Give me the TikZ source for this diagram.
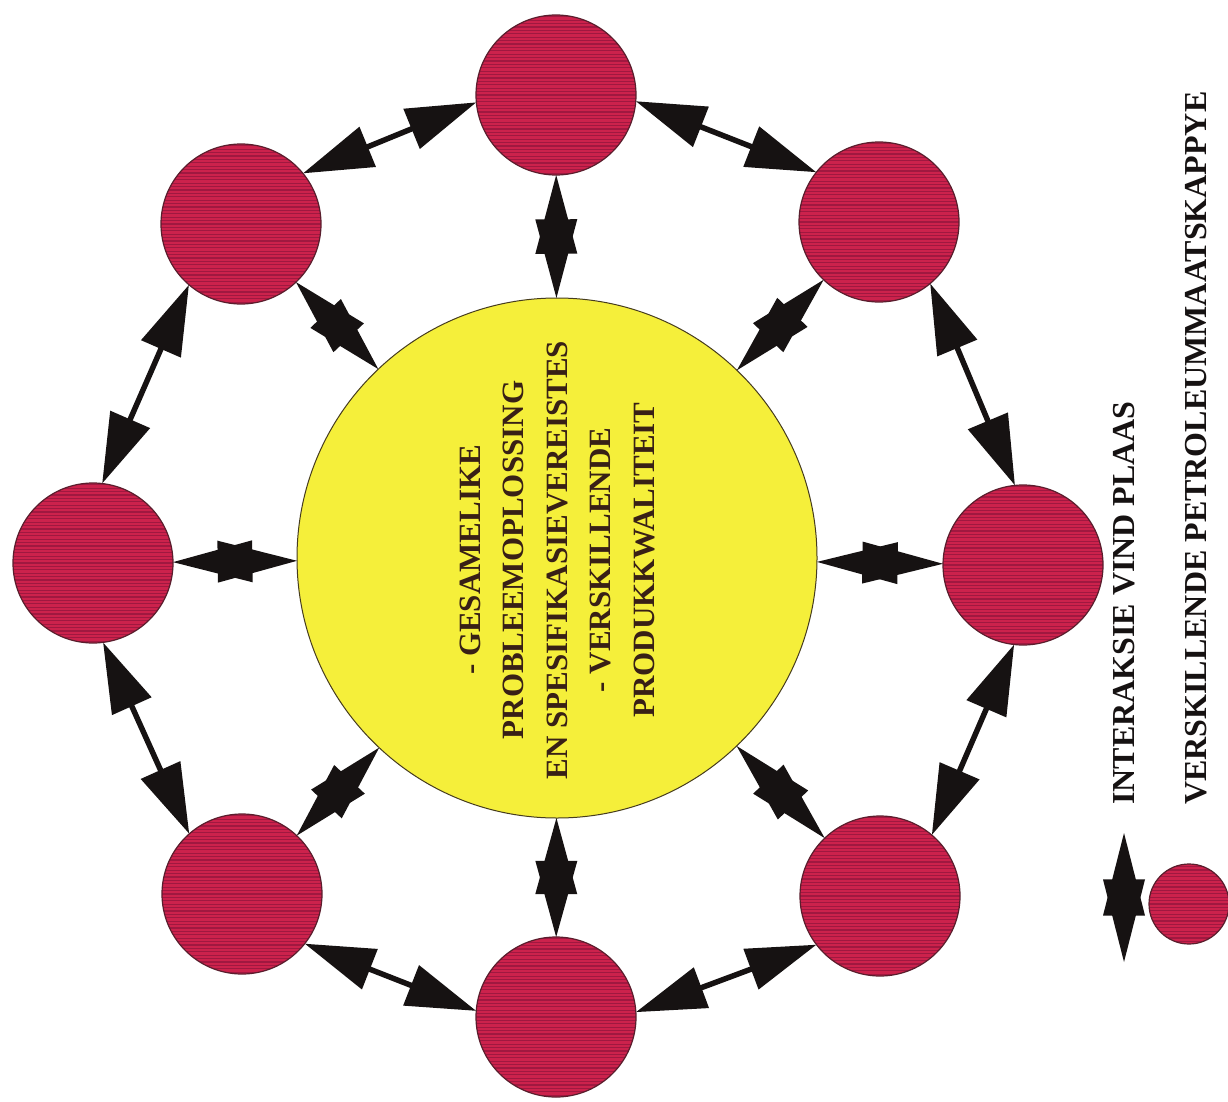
\documentclass[tikz,border=0pt]{standalone}
\usepackage{fontspec}
\setmainfont{Liberation Serif}
\usetikzlibrary{calc,arrows.meta}
\definecolor{cred}{RGB}{204,34,76}
\definecolor{cstripe}{RGB}{160,24,64}
\definecolor{cedge}{RGB}{90,30,45}
\definecolor{cyel}{RGB}{245,239,58}
\definecolor{cyedge}{RGB}{70,60,30}
\definecolor{ctxt}{RGB}{56,32,22}
\definecolor{carrow}{RGB}{22,18,18}
\newcommand\starconn[2]{%
  \coordinate (sm1) at ($(#1)!0.64!(#2)$);
  \coordinate (sm2) at ($(#2)!0.64!(#1)$);
  \fill[carrow] (#1) -- ($(sm1)!21pt!90:(#2)$) -- ($(sm1)!21pt!-90:(#2)$) -- cycle;
  \fill[carrow] (#2) -- ($(sm2)!21pt!90:(#1)$) -- ($(sm2)!21pt!-90:(#1)$) -- cycle;}
\begin{document}
\begin{tikzpicture}[x=1pt,y=-1pt,
  company/.style={circle, minimum size=160pt, inner sep=0pt, fill=cred, draw=cedge, line width=1.2pt,
    path picture={\foreach \k in {-24,...,24}
      \draw[cstripe, line width=1.1pt] ([yshift=\k*3.4pt]path picture bounding box.west) -- ([yshift=\k*3.4pt]path picture bounding box.east);}},
  smallcompany/.style={company, minimum size=80pt},
  core/.style={circle, minimum size=520pt, inner sep=0pt, fill=cyel, draw=cyedge, line width=1pt},
  ctext/.style={rotate=90, align=center, inner sep=0pt, text=ctxt, font=\fontsize{31}{43.5}\selectfont\bfseries},
  legtext/.style={rotate=90, anchor=west, inner sep=0pt, text=carrow, font=\fontsize{32}{38}\selectfont\bfseries},
  outarrow/.style={draw=carrow, line width=5.5pt, {Triangle[length=70pt,width=42pt]}-{Triangle[length=70pt,width=42pt]}}
]
\useasboundingbox[fill=white] (0,0) rectangle (1228,1102);

% core and companies
\node[core] (core) at (557,558) {};
\node[company] (n1) at (556,95) {};
\node[company] (n2) at (879,222) {};
\node[company] (n3) at (1023,565) {};
\node[company] (n4) at (880,896) {};
\node[company] (n5) at (556,1017) {};
\node[company] (n6) at (242,894) {};
\node[company] (n7) at (93,563) {};
\node[company] (n8) at (241,224) {};

% central text
\node[ctext] (txt) at (557,560) {- GESAMELIKE\\PROBLEEMOPLOSSING\\EN SPESIFIKASIEVEREISTES\\- VERSKILLENDE\\PRODUKKWALITEIT};

% ring arrows
\foreach \a/\b in {n1/n2,n2/n3,n3/n4,n4/n5,n5/n6,n6/n7,n7/n8,n8/n1}{
  \draw[outarrow] ($(\a)!80pt!17:(\b)$) -- ($(\b)!80pt!-17:(\a)$);
}

% spoke arrows
\foreach \n in {n1,n2,n3,n4,n5,n6,n7,n8}{
  \coordinate (sa) at ($(\n)!80pt!(core)$);
  \coordinate (sb) at ($(core)!260pt!(\n)$);
  \starconn{sa}{sb}
}

% legend
\coordinate (la) at (1124,833);
\coordinate (lb) at (1124,962);
\starconn{la}{lb}
\node[smallcompany] (lc) at (1189,904) {};
\node[legtext] (lt1) at (1124,805) {INTERAKSIE VIND PLAAS};
\node[legtext] (lt2) at (1196,805) {VERSKILLENDE PETROLEUMMAATSKAPPYE};
\end{tikzpicture}
\end{document}
